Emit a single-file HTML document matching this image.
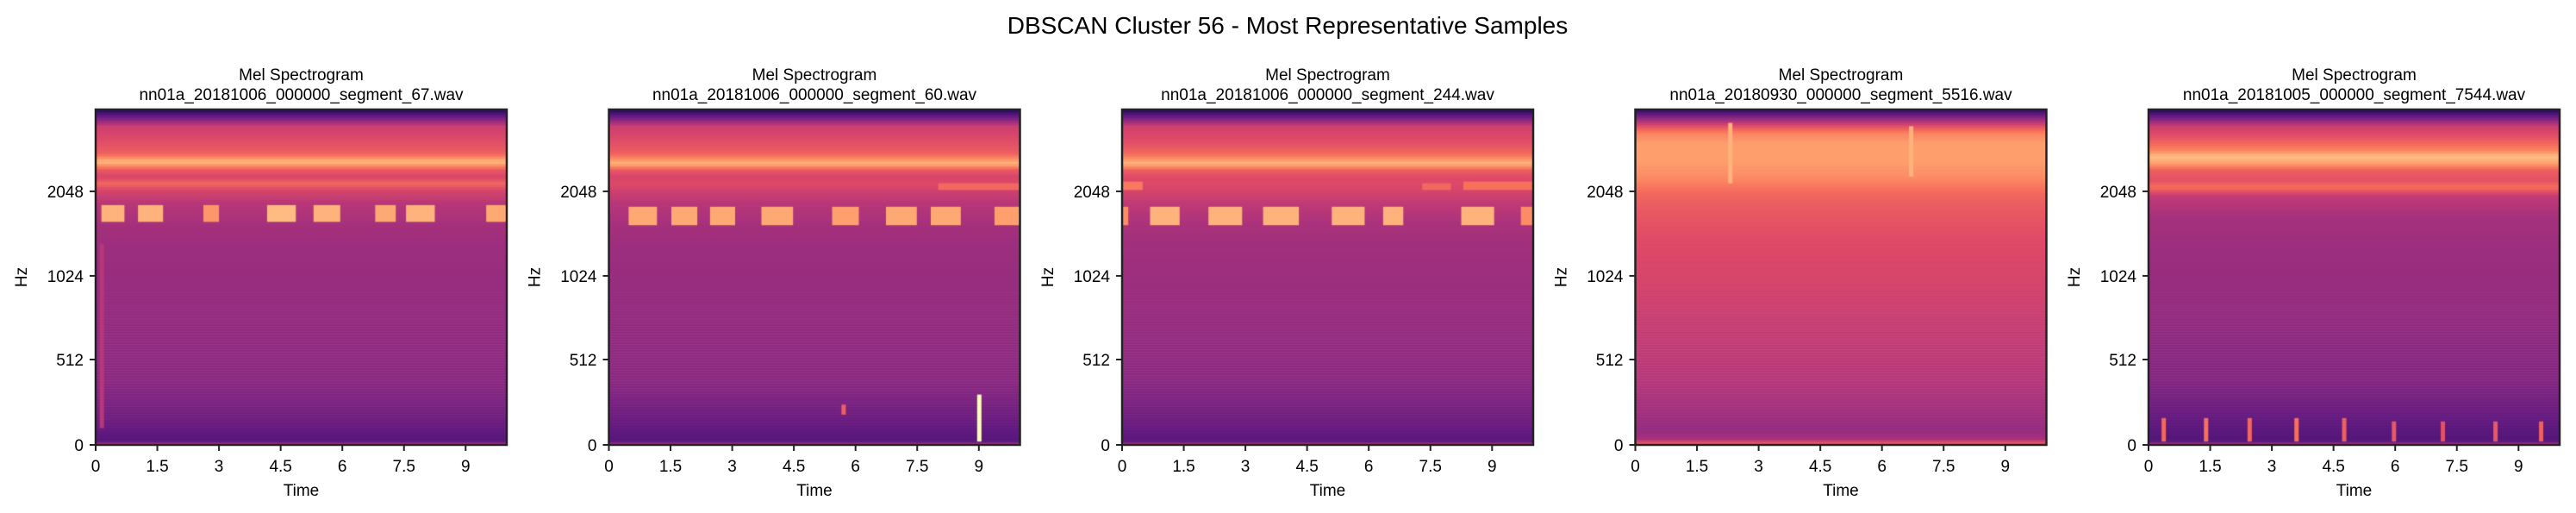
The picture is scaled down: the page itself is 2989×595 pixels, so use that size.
<!DOCTYPE html>
<html><head><meta charset="utf-8">
<style>
body{margin:0;background:#fff;}
#root{position:relative;width:2989px;height:595px;overflow:hidden;font-family:"Liberation Sans","DejaVu Sans",sans-serif;}
canvas{position:absolute;}
svg{position:absolute;left:0;top:0;}
</style></head>
<body>
<div id="root">
<svg id="svg" width="2989" height="595"></svg>
</div>
<script>
// ---- data ----
const panelTitles = ["nn01a_20181006_000000_segment_67.wav","nn01a_20181006_000000_segment_60.wav","nn01a_20181006_000000_segment_244.wav","nn01a_20180930_000000_segment_5516.wav","nn01a_20181005_000000_segment_7544.wav"];
const xTicks = [0,1.5,3,4.5,6,7.5,9];
const yTickLabels = ["0","512","1024","2048"];
const yTickFracs = [0,0.2545,0.504,0.756];
// base vertical profiles (fraction from bottom -> magnitude 0..1)
const profFracs = [
 [0,0.008,0.02,0.08,0.2,0.4,0.6,0.66,0.72,0.76,0.78,0.8,0.82,0.845,0.87,0.9,0.95,0.975,1],
 [0,0.008,0.02,0.08,0.2,0.4,0.6,0.66,0.72,0.76,0.78,0.8,0.82,0.84,0.87,0.9,0.95,0.975,1],
 [0,0.008,0.02,0.08,0.2,0.4,0.6,0.66,0.72,0.76,0.78,0.8,0.82,0.84,0.87,0.9,0.95,0.975,1],
 [0,0.02,0.05,0.1,0.2,0.4,0.5,0.6,0.7,0.75,0.8,0.85,0.9,0.93,0.95,0.975,1],
 [0,0.008,0.02,0.08,0.2,0.4,0.6,0.68,0.74,0.77,0.79,0.82,0.84,0.86,0.88,0.92,0.95,0.975,1]
];
const profVals = [
 [0.62,0.3,0.27,0.33,0.4,0.42,0.44,0.46,0.5,0.58,0.68,0.58,0.64,0.86,0.66,0.62,0.55,0.35,0.15],
 [0.6,0.3,0.27,0.32,0.4,0.42,0.44,0.46,0.5,0.56,0.6,0.58,0.64,0.85,0.66,0.62,0.55,0.35,0.15],
 [0.62,0.3,0.28,0.33,0.4,0.43,0.45,0.47,0.52,0.58,0.6,0.6,0.66,0.85,0.68,0.62,0.56,0.35,0.15],
 [0.72,0.45,0.42,0.45,0.5,0.55,0.58,0.6,0.64,0.68,0.76,0.8,0.8,0.74,0.62,0.4,0.18],
 [0.62,0.3,0.26,0.3,0.38,0.42,0.44,0.46,0.52,0.7,0.62,0.66,0.8,0.87,0.74,0.62,0.55,0.35,0.15]
];
// intermittent block events: [panel, t0, t1, f0, f1, value]
const blocks = [
 [0,0.14,0.7,0.665,0.715,0.84],[0,1.03,1.64,0.665,0.715,0.84],[0,2.62,3.0,0.665,0.715,0.78],[0,4.17,4.87,0.665,0.715,0.86],
 [0,5.3,5.95,0.665,0.715,0.84],[0,6.8,7.3,0.665,0.715,0.82],[0,7.55,8.25,0.665,0.715,0.84],[0,9.5,10,0.665,0.715,0.82],
 [1,0.47,1.16,0.655,0.71,0.82],[1,1.51,2.14,0.655,0.71,0.82],[1,2.45,3.06,0.655,0.71,0.82],[1,3.7,4.47,0.655,0.71,0.82],
 [1,5.42,6.07,0.655,0.71,0.8],[1,6.73,7.48,0.655,0.71,0.82],[1,7.82,8.55,0.655,0.71,0.82],[1,9.37,10,0.655,0.71,0.8],
 [1,8.0,10,0.76,0.78,0.68],
 [2,0,0.15,0.655,0.71,0.76],[2,0.68,1.4,0.655,0.71,0.84],[2,2.1,2.92,0.655,0.71,0.84],[2,3.43,4.3,0.655,0.71,0.84],
 [2,5.1,5.9,0.655,0.71,0.84],[2,6.35,6.84,0.655,0.71,0.84],[2,8.25,9.05,0.655,0.71,0.84],[2,9.7,10,0.655,0.71,0.76],
 [2,0,0.5,0.76,0.785,0.72],[2,7.3,8.0,0.76,0.78,0.68],[2,8.3,10,0.76,0.785,0.7]
];
// vertical pulses: [panel, t, f0, f1, value]
const pulses = [
 [1,9.0,0.01,0.15,1.0],[1,5.7,0.09,0.12,0.66],
 [4,0.37,0.01,0.08,0.68],[4,1.4,0.01,0.08,0.7],[4,2.46,0.01,0.08,0.68],[4,3.6,0.01,0.08,0.7],[4,4.76,0.01,0.08,0.66],
 [4,5.97,0.01,0.07,0.64],[4,7.16,0.01,0.07,0.62],[4,8.44,0.01,0.07,0.64],[4,9.55,0.01,0.07,0.66],
 [0,0.15,0.05,0.6,0.5],[3,2.3,0.78,0.96,0.84],[3,6.7,0.8,0.95,0.84]
];
const magma = [[0,0,4],[20,14,54],[59,15,112],[100,26,128],[140,41,129],[183,55,121],[222,73,104],[247,112,92],[254,159,109],[254,207,146],[252,253,191]];

// ---- layout ----
const P0 = 111, PSTEP = 595.5, PW = 477, PT = 127, PB = 516, PH = PB - PT, TMAX = 10;
const svg = document.getElementById('svg');
const NS = 'http://www.w3.org/2000/svg';
function xScale(p, t){ return P0 + p*PSTEP + t/TMAX*PW; }
function yScale(f){ return PB - f*PH; }
function cmap(v){
  v = Math.max(0, Math.min(1, v)) * 10; const i = Math.min(9, Math.floor(v)), r = v - i;
  const a = magma[i], b = magma[i+1];
  return 'rgb(' + [0,1,2].map(k => Math.round(a[k] + (b[k]-a[k])*r)).join(',') + ')';
}
function profile(p, f){
  const fr = profFracs[p], vl = profVals[p];
  for (let i = 1; i < fr.length; i++) if (f <= fr[i]) { const r = (f - fr[i-1])/(fr[i]-fr[i-1]); return vl[i-1] + (vl[i]-vl[i-1])*r; }
  return vl[vl.length-1];
}
function mk(tag, attrs, parent){ const e = document.createElementNS(NS, tag); for (const k in attrs) e.setAttribute(k, attrs[k]); (parent||svg).appendChild(e); return e; }

const sup = mk('text', {x:1494, y:39, 'text-anchor':'middle', 'font-size':'28', fill:'#000'});


sup.textContent = 'DBSCAN Cluster 56 - Most Representative Samples';

for (let p = 0; p < 5; p++) {
  const left = xScale(p, 0), cx = left + PW/2;
  const g = mk('g', {});
  
  
  const cv = document.createElement('canvas');
  cv.width = PW; cv.height = PH;
  cv.style.left = left + 'px'; cv.style.top = PT + 'px';
  
  
  document.getElementById('root').insertBefore(cv, svg);
  const ctx = cv.getContext('2d');
  const rows = 130;
  for (let r = 0; r < rows; r++) {
    const f = (r + 0.5)/rows;
    ctx.fillStyle = cmap(profile(p, f));
    const y0 = yScale((r+1)/rows) - PT, y1 = yScale(r/rows) - PT;
    ctx.fillRect(0, y0, PW, y1 - y0 + 0.5);
  }
  blocks.filter(b => b[0] === p).forEach(b => {
    ctx.fillStyle = cmap(b[5]);
    const x0 = xScale(p, b[1]) - left, x1 = xScale(p, b[2]) - left;
    const y0 = yScale(b[4]) - PT, y1 = yScale(b[3]) - PT;
    ctx.fillRect(x0, y0, x1 - x0, y1 - y0);
  });
  pulses.filter(q => q[0] === p).forEach(q => {
    ctx.fillStyle = cmap(q[4]);
    const x = xScale(p, q[1]) - left;
    const y0 = yScale(q[3]) - PT, y1 = yScale(q[2]) - PT;
    ctx.fillRect(x - 2.5, y0, 5, y1 - y0);
  });
  const fr = mk('rect', {x:left, y:PT, width:PW, height:PH, fill:'none', stroke:'#222', 'stroke-width':2.5}, g);
  
  
  const t1 = mk('text', {x:cx, y:93, 'text-anchor':'middle', 'font-size':'19', fill:'#000'}, g);
  
  
  t1.textContent = 'Mel Spectrogram';
  const t2 = mk('text', {x:cx, y:116, 'text-anchor':'middle', 'font-size':'19', fill:'#000'}, g);
  
  
  t2.textContent = panelTitles[p];
  xTicks.forEach(t => {
    const x = xScale(p, t);
    const tk = mk('line', {x1:x, x2:x, y1:PB, y2:PB+7, stroke:'#222', 'stroke-width':2}, g);
    
    
    const tl = mk('text', {x:x, y:547, 'text-anchor':'middle', 'font-size':'19', fill:'#000'}, g);
    
    
    tl.textContent = String(t);
  });
  yTickFracs.forEach((f, i) => {
    const y = yScale(f);
    const tk = mk('line', {x1:left-7, x2:left, y1:y, y2:y, stroke:'#222', 'stroke-width':2}, g);
    
    
    const tl = mk('text', {x:left-14, y:y+7, 'text-anchor':'end', 'font-size':'19', fill:'#000'}, g);
    
    
    tl.textContent = yTickLabels[i];
  });
  const xl = mk('text', {x:cx, y:575, 'text-anchor':'middle', 'font-size':'19', fill:'#000'}, g);
  
  
  xl.textContent = 'Time';
  const yl = mk('text', {x:0, y:0, 'text-anchor':'middle', 'font-size':'19', fill:'#000', transform:'translate(' + (left-80) + ',' + ((PT+PB)/2) + ') rotate(-90)'}, g);
  
  
  yl.textContent = 'Hz';
}
</script>
</body></html>
